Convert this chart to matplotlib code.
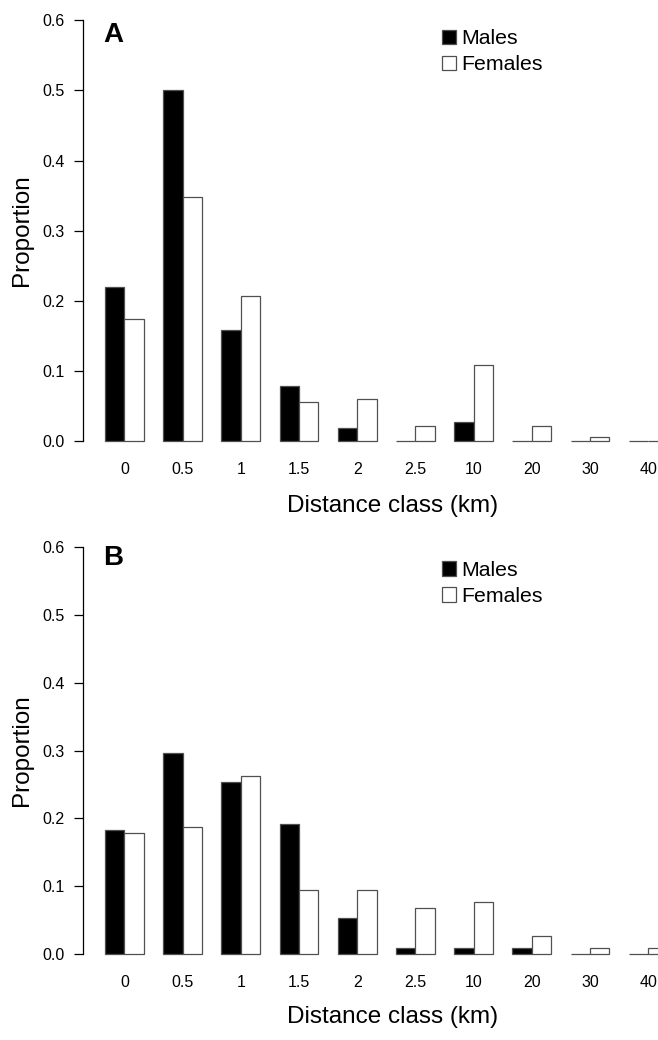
import matplotlib
matplotlib.use("Agg")
import matplotlib.pyplot as plt
import numpy as np
from matplotlib.patches import Patch

plt.rcParams['font.family'] = ['Liberation Sans', 'DejaVu Sans']

# distance classes (km)
classes = ['0', '0.5', '1', '1.5', '2', '2.5', '10', '20', '30', '40']

# panel A
males_a = [0.220, 0.500, 0.158, 0.079, 0.018, 0.0, 0.027, 0.0, 0.0, 0.0]
females_a = [0.174, 0.348, 0.207, 0.055, 0.060, 0.022, 0.109, 0.022, 0.006, 0.0]

# panel B
males_b = [0.183, 0.296, 0.253, 0.192, 0.053, 0.009, 0.009, 0.009, 0.0, 0.0]
females_b = [0.178, 0.187, 0.263, 0.094, 0.094, 0.068, 0.076, 0.026, 0.009, 0.009]

EDGE = '#505050'


def draw_panel(ax, males, females, letter, letter_y, legend_y):
    # R style barplot(beside=TRUE): bars of width 1, one empty slot between groups
    groups = np.arange(len(classes)) * 3 + 2
    ax.bar(groups - 0.5, males, width=1.0, color='black', edgecolor=EDGE,
           linewidth=0.9, clip_on=False)
    ax.bar(groups + 0.5, females, width=1.0, color='white', edgecolor=EDGE,
           linewidth=0.9, clip_on=False)

    ax.set_xlim(-0.16, 31.16)
    ax.set_ylim(0, 0.6)

    for side in ['top', 'right', 'bottom']:
        ax.spines[side].set_visible(False)
    ax.spines['left'].set_bounds(0, 0.6)
    ax.spines['left'].set_linewidth(0.9)

    ax.set_yticks([0.0, 0.1, 0.2, 0.3, 0.4, 0.5, 0.6])
    ax.set_yticklabels(['0.0', '0.1', '0.2', '0.3', '0.4', '0.5', '0.6'])
    ax.tick_params(axis='y', length=6.5, width=0.9, pad=6.5, labelsize=11.5)

    ax.set_xticks(groups)
    ax.set_xticklabels(classes)
    ax.tick_params(axis='x', length=0, pad=15, labelsize=11.5)

    ax.set_ylabel('Proportion', fontsize=17.5)
    ax.yaxis.label.set_va('center')
    ax.yaxis.set_label_coords(-0.0996, 0.5)
    ax.set_xlabel('Distance class (km)', fontsize=17.5)
    ax.xaxis.label.set_va('center')
    ax.xaxis.set_label_coords(0.511, -0.155)

    ax.text(0.0337, letter_y, letter, transform=ax.transAxes, fontsize=20,
            fontweight='bold', ha='left', va='center')

    handles = [Patch(facecolor='black', edgecolor=EDGE, linewidth=0.9),
               Patch(facecolor='white', edgecolor=EDGE, linewidth=0.9)]
    ax.legend(handles, ['Males', 'Females'], loc='upper left',
              bbox_to_anchor=(0.5913, legend_y), frameon=False, fontsize=15.3,
              handlelength=0.65, handleheight=0.65, handletextpad=0.28,
              labelspacing=0.33, borderpad=0, borderaxespad=0)


fig = plt.figure(figsize=(6.58, 10.4), dpi=100)
ax_a = fig.add_axes([82.5 / 658, 0.5760, 607.5 / 658, 0.4045])
ax_b = fig.add_axes([82.5 / 658, 0.0827, 607.5 / 658, 0.3913])

draw_panel(ax_a, males_a, females_a, 'A', 0.966, 0.979)
draw_panel(ax_b, males_b, females_b, 'B', 0.973, 0.966)

fig.savefig('out.png', dpi=100)
